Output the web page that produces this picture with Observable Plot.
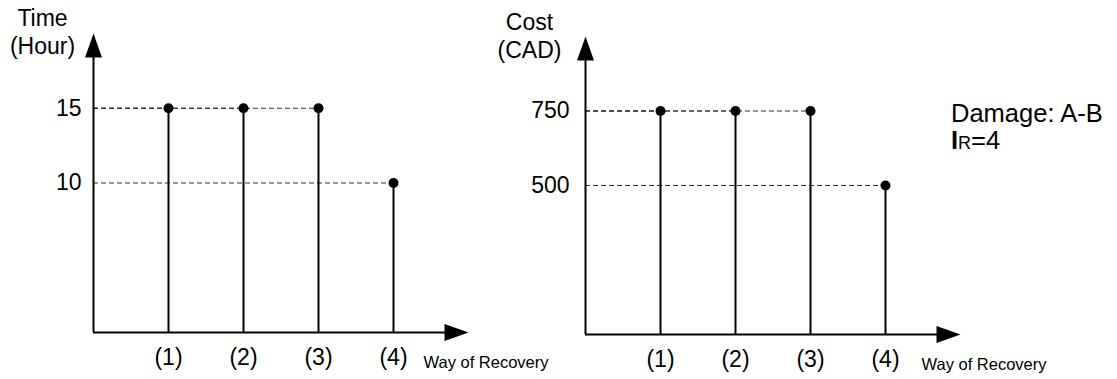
<!DOCTYPE html>
<html>
<head>
<meta charset="utf-8">
<script src="https://cdn.jsdelivr.net/npm/d3@7"></script>
<script src="https://cdn.jsdelivr.net/npm/@observablehq/plot@0.6"></script>
<style>
  html, body { margin: 0; padding: 0; background: #fff; }
  #wrap { position: relative; width: 1117px; height: 379px; font-family: "Liberation Sans", Arial, sans-serif; }
  #left, #right { position: absolute; top: 0; }
  #left { left: 0; }
  #right { left: 500px; }
  #note { position: absolute; left: 951px; top: 100px; font-size: 25.5px; line-height: 27px; color: #000; }
  #note .sub { font-size: 18px; }
</style>
</head>
<body>
<div id="wrap">
  <div id="left"></div>
  <div id="right"></div>
  <div id="note">Damage: A-B<br><b>I</b><span class="sub">R</span>=4</div>
</div>
<script>
// ---- data ----
const ways = ["(1)", "(2)", "(3)", "(4)"];
const timeHours = [15, 15, 15, 10];
const costCAD = [750, 750, 750, 500];
const timeTicks = [10, 15];
const costTicks = [500, 750];
const timeTitle = "Time\n(Hour)";
const costTitle = "Cost\n(CAD)";
const xTitle = "Way of Recovery";

// narrow filled arrow head, tip at the anchor point, pointing up
const arrowHead = {
  draw(ctx) {
    ctx.moveTo(0, 0);
    ctx.lineTo(-8.5, 24);
    ctx.lineTo(8.5, 24);
    ctx.closePath();
  }
};

function panel({values, ticks, yMax, title, titleDx, titleDy, width, xRange, yRange, tickPad, xTitleDx}) {
  const data = values.map((v, i) => ({way: i + 1, label: ways[i], value: v}));
  const xMax = ways.length + 1;
  return Plot.plot({
    width, height: 379,
    marginLeft: 0, marginRight: 0, marginTop: 0, marginBottom: 0,
    style: {background: "none", overflow: "visible", fontFamily: "Liberation Sans, Arial, sans-serif"},
    x: {domain: [0, xMax], range: xRange},
    y: {domain: [0, yMax], range: yRange},
    marks: [
      // dashed reference lines from the y axis to each point
      Plot.ruleY(data, {y: "value", x1: 0, x2: "way", stroke: "#333", strokeWidth: 1, strokeDasharray: "5,3"}),
      // stems
      Plot.ruleX(data, {x: "way", y1: 0, y2: "value", stroke: "#000", strokeWidth: 2}),
      Plot.dot(data, {x: "way", y: "value", r: 5, fill: "#000", stroke: "none"}),
      // axes with arrows
      Plot.ruleY([0], {x1: 0, x2: xMax - 0.1, stroke: "#000", strokeWidth: 2}),
      Plot.ruleX([0], {y1: 0, y2: yMax * 0.95, stroke: "#000", strokeWidth: 2}),
      Plot.dot([{x: xMax, y: 0}], {x: "x", y: "y", symbol: arrowHead, rotate: 90, fill: "#000", stroke: "none"}),
      Plot.dot([{x: 0, y: yMax}], {x: "x", y: "y", symbol: arrowHead, fill: "#000", stroke: "none"}),
      // axis tick labels
      Plot.axisY({ticks, tickSize: 0, tickPadding: tickPad, fontSize: 23, label: null, anchor: "left", x: 0}),
      Plot.axisX({ticks: data.map(d => d.way), tickFormat: d => ways[d - 1], tickSize: 0, tickPadding: 16, fontSize: 23, label: null, anchor: "bottom", y: 0}),
      // axis titles
      Plot.text([title], {frameAnchor: "top-left", dx: xRange[0] + titleDx, dy: titleDy, text: d => d, fontSize: 23, textAnchor: "middle", lineAnchor: "top", lineHeight: 1.2}),
      Plot.text([xTitle], {x: ways.length, y: 0, dx: xTitleDx, dy: 30, text: d => d, fontSize: 16.5, textAnchor: "start"})
    ]
  });
}

document.getElementById("left").appendChild(panel({
  values: timeHours, ticks: timeTicks, yMax: 20, title: timeTitle, titleDx: -51, titleDy: 6,
  width: 500, xRange: [93, 468], yRange: [332, 33], tickPad: 12, xTitleDx: 30
}));
document.getElementById("right").appendChild(panel({
  values: costCAD, ticks: costTicks, yMax: 1000, title: costTitle, titleDx: -56, titleDy: 10,
  width: 617, xRange: [85, 460], yRange: [334, 36], tickPad: 16, xTitleDx: 36
}));
</script>
</body>
</html>
